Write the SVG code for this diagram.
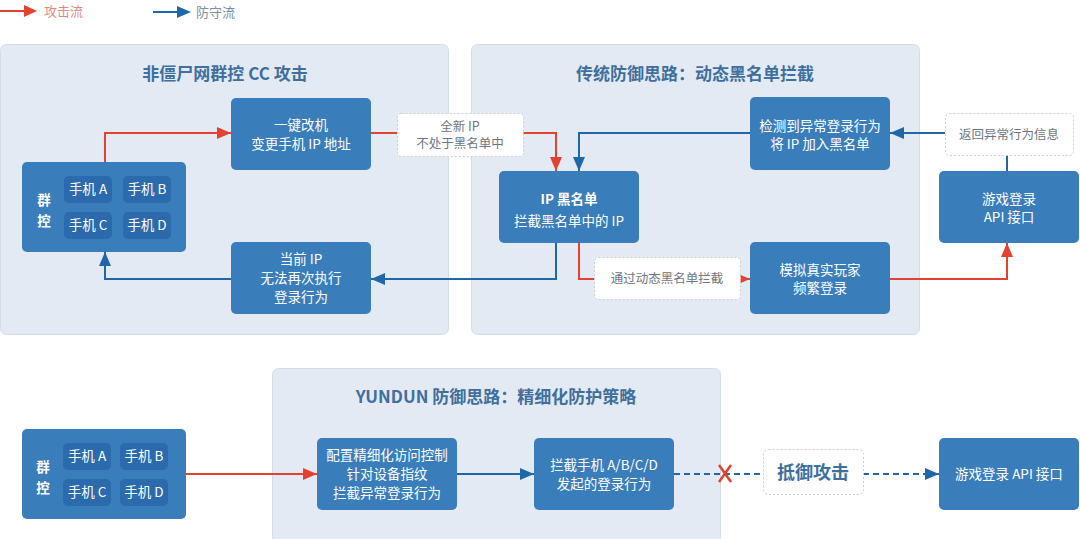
<svg xmlns="http://www.w3.org/2000/svg" width="1080" height="539" viewBox="0 0 1080 539">
<defs>
<style>
.panel{fill:#e3eaf4;stroke:#d3ddea;stroke-width:1}
.node{fill:#3a7dbb}
.phone{fill:#2a6aad}
.lbl{fill:#ffffff;stroke:#c9cfd6;stroke-width:1;stroke-dasharray:2 2}
.title{font-family:"Noto Sans CJK SC","Noto Sans",sans-serif;font-size:17px;font-weight:bold;fill:#3f6f9e;text-anchor:middle}
.t{font-family:"Noto Sans CJK SC","Noto Sans",sans-serif;font-size:13.5px;fill:#ffffff;text-anchor:middle}
.g{font-family:"Noto Sans CJK SC","Noto Sans",sans-serif;font-size:12.5px;fill:#6d7680;text-anchor:middle}
.red{fill:none;stroke:#e2422f;stroke-width:2}
.blue{fill:none;stroke:#1f67a8;stroke-width:2}
.dash{stroke-dasharray:6 4}
</style>
<marker id="ar" viewBox="0 0 14 12" refX="14" refY="6" markerWidth="14" markerHeight="12" markerUnits="userSpaceOnUse" orient="auto"><path d="M0,0L14,6L0,12z" fill="#e2422f"/></marker>
<marker id="ab" viewBox="0 0 14 12" refX="14" refY="6" markerWidth="14" markerHeight="12" markerUnits="userSpaceOnUse" orient="auto"><path d="M0,0L14,6L0,12z" fill="#1f67a8"/></marker>
</defs>
<rect width="1080" height="539" fill="#ffffff"/>

<g id="legend">
<line x1="0" y1="11" x2="26" y2="11" stroke="#e2422f" stroke-width="2"/>
<path d="M24,5L37,11L24,17z" fill="#e2422f"/>
<text x="44" y="16" font-family="Noto Sans CJK SC,sans-serif" font-size="13" fill="#e08a80">攻击流</text>
<line x1="153" y1="12" x2="179" y2="12" stroke="#1f67a8" stroke-width="2"/>
<path d="M177,6L191,12L177,18z" fill="#1f67a8"/>
<text x="196" y="17" font-family="Noto Sans CJK SC,sans-serif" font-size="13" fill="#7a8ea8">防守流</text>
</g>

<g id="panel1"><rect class="panel" x="0.5" y="44.5" width="448" height="290" rx="6"/><text class="title" x="225" y="80">非僵尸网群控 CC 攻击</text></g>
<g id="panel2"><rect class="panel" x="471.5" y="44.5" width="448" height="290" rx="6"/><text class="title" x="695" y="80">传统防御思路：动态黑名单拦截</text></g>
<g id="panel3"><rect class="panel" x="272.5" y="368.5" width="448" height="175" rx="6"/><text class="title" x="496" y="403">YUNDUN 防御思路：精细化防护策略</text></g>

<g id="connectors">
<path class="red" d="M105,162V133H231" marker-end="url(#ar)"/>
<path class="red" d="M371,133H397"/>
<path class="red" d="M523,133H556V171" marker-end="url(#ar)"/>
<path class="blue" d="M750,133H579V171" marker-end="url(#ab)"/>
<path class="blue" d="M556,243V279H371" marker-end="url(#ab)"/>
<path class="blue" d="M231,279H105V252" marker-end="url(#ab)"/>
<path class="red" d="M579,243V279H594"/>
<path class="red" d="M740,279H750" marker-end="url(#ar)"/>
<path class="red" d="M890,279H1007V243" marker-end="url(#ar)"/>
<path class="blue" d="M1007,171V155"/>
<path class="blue" d="M945,133H890" marker-end="url(#ab)"/>
<path class="red" d="M186,474H317" marker-end="url(#ar)"/>
<path class="blue" d="M457,474H534" marker-end="url(#ab)"/>
<path class="blue dash" d="M674,474H763"/>
<path class="blue dash" d="M863,474H939" marker-end="url(#ab)"/>
<g stroke="#e2422f" stroke-width="2.5"><line x1="719" y1="465" x2="731" y2="482"/><line x1="731" y1="465" x2="719" y2="482"/></g>
</g>

<g id="qunkong1">
<rect class="node" x="22" y="162" width="164" height="90" rx="5"/>
<text class="t" x="44" y="205" font-size="19" font-weight="bold">群</text>
<text class="t" x="44" y="226" font-size="19" font-weight="bold">控</text>
<rect class="phone" x="64" y="176" width="48" height="27" rx="5"/><text class="t" x="88" y="194">手机 A</text>
<rect class="phone" x="123" y="176" width="48" height="27" rx="5"/><text class="t" x="147" y="194">手机 B</text>
<rect class="phone" x="64" y="212" width="48" height="27" rx="5"/><text class="t" x="88" y="230">手机 C</text>
<rect class="phone" x="123" y="212" width="48" height="27" rx="5"/><text class="t" x="147" y="230">手机 D</text>
</g>
<g id="gaiji"><rect class="node" x="231" y="98" width="140" height="72" rx="5"/><text class="t" x="301" y="130">一键改机</text><text class="t" x="301" y="149">变更手机 IP 地址</text></g>
<g id="dangqian"><rect class="node" x="231" y="242" width="140" height="72" rx="5"/><text class="t" x="301" y="264">当前 IP</text><text class="t" x="301" y="283">无法再次执行</text><text class="t" x="301" y="302">登录行为</text></g>
<g id="quanxin"><rect class="lbl" x="397.5" y="113.5" width="126" height="43" rx="4"/><text class="g" x="460" y="131">全新 IP</text><text class="g" x="460" y="148">不处于黑名单中</text></g>
<g id="heimingdan"><rect class="node" x="499" y="171" width="140" height="72" rx="5"/><text class="t" x="569" y="204" font-size="17" font-weight="bold">IP 黑名单</text><text class="t" x="569" y="226">拦截黑名单中的 IP</text></g>
<g id="jiance"><rect class="node" x="750" y="97" width="140" height="73" rx="5"/><text class="t" x="820" y="131">检测到异常登录行为</text><text class="t" x="820" y="149">将 IP 加入黑名单</text></g>
<g id="tongguo"><rect class="lbl" x="594.5" y="257.5" width="146" height="42" rx="4"/><text class="g" x="667" y="283">通过动态黑名单拦截</text></g>
<g id="moni"><rect class="node" x="750" y="242" width="140" height="72" rx="5"/><text class="t" x="820" y="275">模拟真实玩家</text><text class="t" x="820" y="293">频繁登录</text></g>
<g id="fanhui"><rect class="lbl" x="945.5" y="113.5" width="128" height="42" rx="4"/><text class="g" x="1009" y="139">返回异常行为信息</text></g>
<g id="api1"><rect class="node" x="939" y="171" width="140" height="72" rx="5"/><text class="t" x="1009" y="204">游戏登录</text><text class="t" x="1009" y="222">API 接口</text></g>

<g id="qunkong2">
<rect class="node" x="22" y="429" width="164" height="90" rx="5"/>
<text class="t" x="43" y="472" font-size="19" font-weight="bold">群</text>
<text class="t" x="43" y="493" font-size="19" font-weight="bold">控</text>
<rect class="phone" x="63" y="443" width="48" height="27" rx="5"/><text class="t" x="87" y="461">手机 A</text>
<rect class="phone" x="120" y="443" width="48" height="27" rx="5"/><text class="t" x="144" y="461">手机 B</text>
<rect class="phone" x="63" y="479" width="48" height="27" rx="5"/><text class="t" x="87" y="497">手机 C</text>
<rect class="phone" x="120" y="479" width="48" height="27" rx="5"/><text class="t" x="144" y="497">手机 D</text>
</g>
<g id="peizhi"><rect class="node" x="317" y="438" width="140" height="72" rx="5"/><text class="t" x="387" y="460">配置精细化访问控制</text><text class="t" x="387" y="479">针对设备指纹</text><text class="t" x="387" y="498">拦截异常登录行为</text></g>
<g id="lanjie"><rect class="node" x="534" y="438" width="140" height="72" rx="5"/><text class="t" x="604" y="470">拦截手机 A/B/C/D</text><text class="t" x="604" y="489">发起的登录行为</text></g>
<g id="diyu"><rect class="lbl" x="763.5" y="449.5" width="100" height="45" rx="5"/><text x="813" y="479" font-family="Noto Sans CJK SC,sans-serif" font-size="18" font-weight="bold" fill="#3f6f9e" text-anchor="middle">抵御攻击</text></g>
<g id="api2"><rect class="node" x="939" y="438" width="140" height="72" rx="5"/><text class="t" x="1009" y="479">游戏登录 API 接口</text></g>
</svg>
